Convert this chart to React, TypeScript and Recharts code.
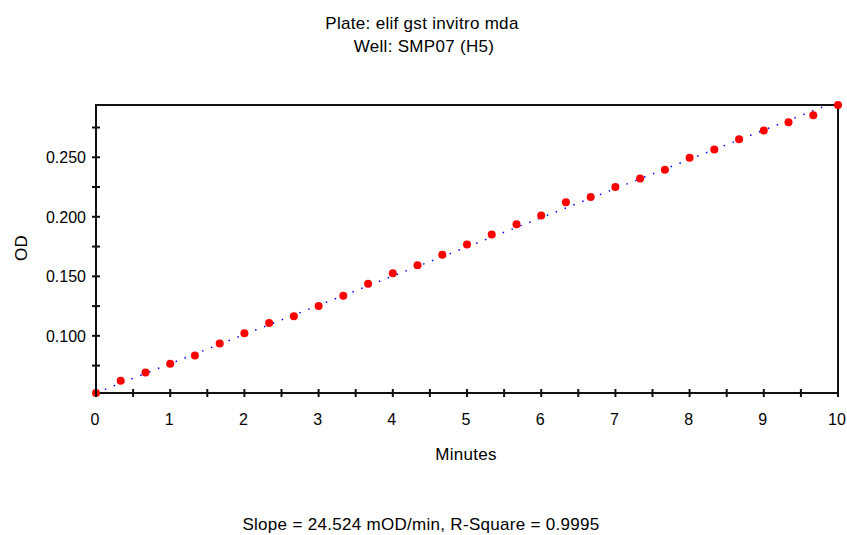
import { ComposedChart, Scatter, Line, XAxis, YAxis, ReferenceArea } from "recharts";

// valores (minutos / OD)
const minutes = [
  0, 0.333, 0.667, 1, 1.333, 1.667, 2, 2.333, 2.667, 3, 3.333, 3.667, 4, 4.333, 4.667, 5,
  5.333, 5.667, 6, 6.333, 6.667, 7, 7.333, 7.667, 8, 8.333, 8.667, 9, 9.333, 9.667, 10,
];
const od = [
  0.052, 0.0623, 0.0693, 0.0766, 0.0835, 0.0936, 0.1022, 0.1109, 0.1165, 0.1251, 0.1337,
  0.1438, 0.1525, 0.1594, 0.1681, 0.1767, 0.1851, 0.1937, 0.201, 0.2122, 0.2166, 0.225,
  0.2322, 0.2395, 0.2496, 0.2565, 0.2651, 0.2724, 0.2794, 0.2852, 0.2939,
];

// recta de ajuste (punteada azul), extremos
const fitMinutes = [0, 9.86];
const fitOd = [0.0521, 0.2939];

const xTicks = [0, 0.5, 1, 1.5, 2, 2.5, 3, 3.5, 4, 4.5, 5, 5.5, 6, 6.5, 7, 7.5, 8, 8.5, 9, 9.5, 10];
const yTicks = [0.075, 0.1, 0.125, 0.15, 0.175, 0.2, 0.225, 0.25, 0.275];
const yDomain = [0.052, 0.2939];

const points = minutes.map((t, i) => ({ t, od: od[i] }));
const fitLine = fitMinutes.map((t, i) => ({ t, fit: fitOd[i] }));

const FONT = "'Liberation Sans', Arial, sans-serif";
const AXIS = "#111";

const YTick = (props: any) => {
  const { x, y, payload } = props;
  const ax = x + 10;
  const v = payload.value;
  const labelled = Math.abs(v * 20 - Math.round(v * 20)) < 1e-6;
  return (
    <g>
      <line x1={ax - 4} x2={ax + 4} y1={y} y2={y} stroke={AXIS} strokeWidth={2} />
      {labelled && (
        <text x={ax - 10} y={y} dy="0.36em" textAnchor="end" fontSize={16} fontFamily={FONT} fill="#000">
          {v.toFixed(3)}
        </text>
      )}
    </g>
  );
};

const XTick = (props: any) => {
  const { x, y, payload } = props;
  const ay = y - 10;
  const v = payload.value;
  return (
    <g>
      <line x1={x} x2={x} y1={ay - 4} y2={ay + 4} stroke={AXIS} strokeWidth={2} />
      {Number.isInteger(v) && (
        <text x={x - 1} y={ay + 32} textAnchor="middle" fontSize={16} fontFamily={FONT} fill="#000">
          {v}
        </text>
      )}
    </g>
  );
};

const App = () => {
  return (
    <div style={{ position: "absolute", left: 0, top: 0, width: 847, height: 535, background: "#fff" }}>
      <ComposedChart width={847} height={535} margin={{ top: 105, right: 9, bottom: 112, left: 0 }}>
        <XAxis
          dataKey="t"
          type="number"
          domain={[0, 10]}
          ticks={xTicks}
          interval={0}
          height={30}
          tickSize={4}
          tickMargin={6}
          tickLine={false}
          tick={<XTick />}
          axisLine={{ stroke: AXIS, strokeWidth: 2 }}
        />
        <YAxis
          type="number"
          domain={yDomain}
          ticks={yTicks}
          interval={0}
          width={96}
          tickSize={4}
          tickMargin={6}
          tickLine={false}
          tick={<YTick />}
          axisLine={{ stroke: AXIS, strokeWidth: 2 }}
        />
        <ReferenceArea x1={0} x2={10} y1={yDomain[0]} y2={yDomain[1]} fill="none" stroke={AXIS} strokeWidth={2} />
        <Scatter
          data={points}
          dataKey="od"
          isAnimationActive={false}
          shape={(p: any) => <circle cx={p.cx} cy={p.cy} r={4} fill="#ff0000" />}
        />
        <Line
          data={fitLine}
          dataKey="fit"
          type="linear"
          stroke="#0000ff"
          strokeWidth={1.5}
          strokeDasharray="1.5 8"
          dot={false}
          isAnimationActive={false}
        />
      </ComposedChart>
      <svg width={847} height={535} style={{ position: "absolute", left: 0, top: 0, pointerEvents: "none" }}>
        <g fontFamily={FONT} fontSize={17} letterSpacing={0.3} fill="#000" textAnchor="middle">
          <text x={422} y={29}>Plate: elif gst invitro mda</text>
          <text x={424} y={52}>Well: SMP07 (H5)</text>
          <text x={466} y={460}>Minutes</text>
          <text x={27} y={248} transform="rotate(-90 27 248)">OD</text>
          <text x={421} y={530}>Slope = 24.524 mOD/min, R-Square = 0.9995</text>
        </g>
      </svg>
    </div>
  );
};

export default App;
